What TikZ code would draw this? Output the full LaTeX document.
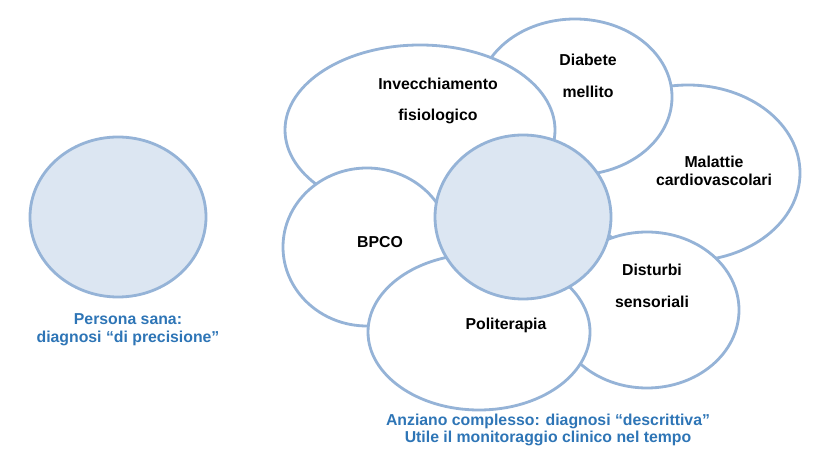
\documentclass[tikz,border=0pt]{standalone}
\usepackage{fontspec}
\setmainfont{Liberation Sans}
\usetikzlibrary{shapes.geometric}
\definecolor{rim}{HTML}{95B3D7}
\definecolor{pale}{HTML}{DCE6F2}
\definecolor{caption}{HTML}{2E75B6}
\begin{document}
\begin{tikzpicture}
  [x=0.02cm, y=-0.02cm,
   every node/.style={font=\fontsize{9}{10}\selectfont\bfseries},
   area/.style={ellipse, draw=rim, line width=1.6pt, fill=white, inner sep=0pt},
   core/.style={area, fill=pale},
   wide/.style={align=center, font=\fontsize{9}{18}\selectfont\bfseries},
   caption/.style={text=caption, align=center}]
  \useasboundingbox (0,0) rectangle (817,465);
  \node[core, minimum width=176*0.02cm, minimum height=160*0.02cm] (sana) at (118,217) {};
  \node[area, minimum width=224*0.02cm, minimum height=176*0.02cm] (cuore) at (688,173) {};
  \node[area, minimum width=194*0.02cm, minimum height=156*0.02cm] (diab) at (575,97) {};
  \node[area, minimum width=184*0.02cm, minimum height=156*0.02cm] (sens) at (647,310) {};
  \node[area, minimum width=270*0.02cm, minimum height=170*0.02cm] (eta) at (420,130) {};
  \node[area, minimum width=168*0.02cm, minimum height=158*0.02cm] (bpco) at (367,247) {};
  \node[area, minimum width=222*0.02cm, minimum height=156*0.02cm] (farmaci) at (479,332) {};
  \node[core, minimum width=176*0.02cm, minimum height=164*0.02cm] (anziano) at (523,217) {};
  % testi
  \node[wide] (t1) at (438,101) {Invecchiamento\\fisiologico};
  \node[wide] (t2) at (588,76) {Diabete\\mellito};
  \node[align=center] (t3) at (714,171) {Malattie\\cardiovascolari};
  \node (t4) at (380,242) {BPCO};
  \node[wide] (t5) at (652,286) {Disturbi\\sensoriali};
  \node (t6) at (506,325) {Politerapia};
  \node[caption] (c1) at (128,330) {Persona sana:\\diagnosi “di precisione”};
  \node[caption] (c2) at (548,430) {Anziano complesso: diagnosi “descrittiva”\\Utile il monitoraggio clinico nel tempo};
\end{tikzpicture}
\end{document}
